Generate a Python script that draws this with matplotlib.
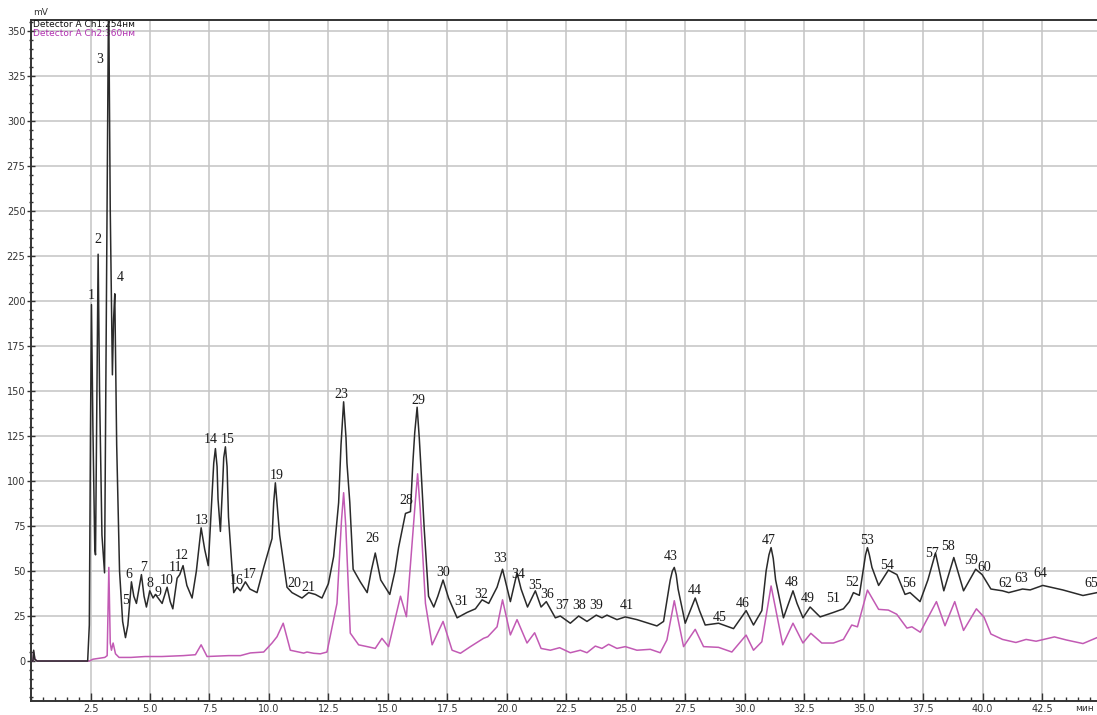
#!/usr/bin/env python3
"""
Script to redraw a two-channel HPLC chromatogram (254 nm and 360 nm).
"""

import matplotlib.pyplot as plt
from matplotlib.ticker import MultipleLocator

# Channel 1 (254 nm) trace: time in min, signal in mV
ch1_time = [
    0.0, 0.08, 0.11, 0.16, 0.25, 2.38, 2.45, 2.50, 2.54, 2.60, 2.68, 2.71, 2.75,
    2.82, 2.88, 2.98, 3.09, 3.17, 3.26, 3.33, 3.42, 3.47, 3.52, 3.60, 3.72, 3.85,
    3.97, 4.07, 4.12, 4.22, 4.32, 4.43, 4.64, 4.75, 4.85, 4.99, 5.13, 5.23, 5.51,
    5.72, 5.85, 5.96, 6.14, 6.25, 6.39, 6.55, 6.77, 6.95, 7.15, 7.30, 7.45, 7.60,
    7.68, 7.75, 7.82, 7.86, 7.96, 8.06, 8.10, 8.17, 8.24, 8.30, 8.52, 8.66, 8.80,
    9.01, 9.20, 9.50, 9.78, 10.13, 10.20, 10.27, 10.35, 10.45, 10.76, 10.97,
    11.39, 11.67, 11.95, 12.23, 12.50, 12.72, 12.93, 13.03, 13.14, 13.24, 13.28,
    13.40, 13.54, 13.84, 14.13, 14.30, 14.47, 14.70, 15.08, 15.30, 15.45, 15.74,
    15.95, 16.05, 16.13, 16.23, 16.32, 16.38, 16.53, 16.71, 16.93, 17.10, 17.32,
    17.55, 17.91, 18.33, 18.68, 18.96, 19.24, 19.59, 19.82, 20.15, 20.43, 20.60,
    20.87, 21.20, 21.44, 21.66, 22.04, 22.25, 22.67, 23.02, 23.37, 23.76, 24.00,
    24.21, 24.63, 24.98, 25.47, 26.31, 26.59, 26.87, 26.96, 27.04, 27.12, 27.20,
    27.50, 27.92, 28.10, 28.34, 28.90, 29.53, 29.85, 30.06, 30.37, 30.72, 30.90,
    31.02, 31.11, 31.20, 31.30, 31.63, 32.03, 32.20, 32.45, 32.75, 33.17, 33.73,
    34.15, 34.40, 34.57, 34.82, 35.08, 35.16, 35.24, 35.35, 35.63, 36.04, 36.40,
    36.74, 36.95, 37.37, 37.70, 38.02, 38.37, 38.79, 39.20, 39.71, 39.98, 40.35,
    40.84, 41.10, 41.68, 42.00, 42.53, 43.37, 44.22, 44.81,
]
ch1_mv = [
    0, 0, 6, 1, 0, 0, 20, 130, 198, 130, 62, 59, 120,
    226, 150, 70, 49, 200, 375, 250, 159, 190, 204, 120, 50, 22,
    13, 20, 28, 44, 36, 32, 48, 36, 30, 39, 35, 37, 32,
    41, 33, 29, 46, 48, 53, 42, 35, 50, 74, 62, 53, 90,
    110, 118, 108, 90, 72, 100, 113, 119, 108, 80, 38, 41, 39,
    44, 40, 38, 52, 68, 88, 99, 86, 70, 41, 38,
    35, 38, 37, 35, 43, 58, 88, 120, 144, 124, 110,
    88, 51, 44, 38, 50, 60, 45, 37, 50, 63, 82,
    83, 110, 127, 141, 124, 110, 73, 36, 30, 36, 45,
    35, 24, 27, 29, 34, 32, 41, 51, 33, 49, 40,
    30, 39, 30, 33, 24, 25, 21, 25, 22, 25.5, 24,
    25.5, 23, 24.5, 23, 19.5, 22, 45, 50, 52, 48, 40,
    21, 35, 28, 20, 21, 18, 24, 28, 20, 28, 50,
    59, 63, 57, 45, 24, 39, 32, 24, 30, 24.5, 27,
    29, 33, 38, 36.5, 59, 63, 59, 52, 42, 50.5, 48,
    37, 38, 33, 45, 60, 39, 57.5, 39, 51, 48, 40,
    39, 38, 40, 39.5, 42, 39.5, 36.4, 38,
]

# Channel 2 (360 nm) trace
ch2_time = [
    0.0, 0.08, 0.11, 0.16, 0.25, 2.45, 2.60, 3.10, 3.20, 3.27, 3.33, 3.38, 3.45,
    3.55, 3.70, 4.20, 4.80, 5.50, 6.40, 6.91, 7.15, 7.40, 8.30, 8.80, 9.22, 9.78,
    10.13, 10.34, 10.60, 10.90, 11.46, 11.60, 11.88, 12.16, 12.44, 12.86, 13.05,
    13.14, 13.23, 13.42, 13.77, 14.13, 14.47, 14.75, 15.03, 15.53, 15.78, 16.15,
    16.25, 16.36, 16.58, 16.86, 17.32, 17.70, 18.05, 18.47, 19.02, 19.20, 19.59,
    19.82, 20.15, 20.43, 20.85, 21.17, 21.44, 21.83, 22.22, 22.67, 23.09, 23.37,
    23.72, 24.00, 24.28, 24.63, 24.98, 25.47, 26.03, 26.45, 26.73, 27.04, 27.43,
    27.92, 28.27, 28.90, 29.46, 30.06, 30.37, 30.72, 31.11, 31.60, 32.03, 32.45,
    32.78, 33.24, 33.73, 34.15, 34.50, 34.74, 35.16, 35.63, 36.04, 36.39, 36.82,
    37.03, 37.38, 38.06, 38.42, 38.83, 39.20, 39.74, 40.06, 40.35, 40.84, 41.40,
    41.83, 42.25, 43.02, 43.52, 44.22, 44.81,
]
ch2_mv = [
    0, 0, 5, 1, 0, 0, 1, 2, 3, 52, 10, 6, 10,
    4, 2, 2, 2.5, 2.5, 3, 3.5, 9, 2.5, 3, 3, 4.5, 5,
    10, 13.5, 21, 6, 4.4, 5, 4.3, 4, 5, 32, 78,
    93.5, 75, 15.5, 9, 8, 7, 12.6, 8, 36, 24.6, 88,
    104, 84, 32, 9, 22, 6, 4.3, 8, 12.6, 13.5, 19,
    34, 14.5, 23, 10, 15.7, 7, 6, 7.4, 4.6, 6, 4.6,
    8.3, 7, 9.3, 7, 8, 6, 6.5, 4.6, 11.7, 33.5, 8,
    17.6, 8, 7.6, 5, 14.4, 6, 10.7, 41.7, 9, 21, 10,
    15.4, 10, 10, 12, 20, 19, 39.4, 28.7, 28.3, 26, 18.3,
    19, 16, 33, 19.6, 33, 17, 29, 24.4, 15, 12, 10.3,
    12, 11, 13.4, 11.7, 9.7, 13,
]

# Peak numbers and where their labels sit (time, mV)
peak_labels = [
    "1", "2", "3", "4", "5", "6", "7", "8", "9", "10", "11", "12", "13", "14",
    "15", "16", "17", "19", "20", "21", "23", "26", "28", "29", "30", "31", "32",
    "33", "34", "35", "36", "37", "38", "39", "41", "43", "44", "45", "46", "47",
    "48", "49", "51", "52", "53", "54", "56", "57", "58", "59", "60", "62", "63",
    "64", "65",
]
label_time = [
    2.54, 2.80, 2.88, 3.76, 3.97, 4.10, 4.73, 4.98, 5.32, 5.69, 6.07, 6.32, 7.16,
    7.54, 8.26, 8.63, 9.18, 10.31, 11.07, 11.66, 13.05, 14.35, 15.78, 16.28,
    17.33, 18.09, 18.93, 19.73, 20.48, 21.20, 21.70, 22.33, 23.05, 23.76, 25.06,
    26.87, 27.92, 28.93, 29.90, 30.99, 31.99, 32.67, 33.72, 34.52, 35.15, 36.00,
    36.91, 37.88, 38.55, 39.52, 40.07, 40.94, 41.61, 42.41, 44.55,
]
label_mv = [
    202.8, 233.9, 333.9, 213.3, 33.9, 48.3, 52.2, 42.8, 38.3, 45.0, 52.2, 58.9,
    77.8, 122.8, 122.8, 45.0, 48.3, 102.8, 43.3, 41.1, 148.3, 67.8, 89.4, 145.0,
    49.4, 32.8, 37.2, 56.7, 48.3, 42.2, 37.2, 31.1, 30.6, 31.1, 30.6, 58.3,
    39.4, 24.4, 32.2, 67.2, 43.9, 35.0, 35.0, 43.9, 67.2, 52.8, 42.8, 60.0,
    63.9, 56.1, 52.2, 43.3, 46.1, 48.9, 43.3,
]

x_ticks = [2.5, 5.0, 7.5, 10.0, 12.5, 15.0, 17.5, 20.0, 22.5, 25.0, 27.5, 30.0,
           32.5, 35.0, 37.5, 40.0, 42.5]
y_ticks = [0, 25, 50, 75, 100, 125, 150, 175, 200, 225, 250, 275, 300, 325, 350]

CH1_COLOR = "#2a2a2a"
CH2_COLOR = "#c25ab4"


def main():
    fig = plt.figure(figsize=(10.97, 7.15), dpi=100)
    ax = fig.add_axes([0.0283, 0.0196, 0.9717, 0.9524])

    ax.plot(ch2_time, ch2_mv, color=CH2_COLOR, lw=1.1, zorder=3)
    ax.plot(ch1_time, ch1_mv, color=CH1_COLOR, lw=1.1, zorder=4)

    for lab, t, v in zip(peak_labels, label_time, label_mv):
        ax.text(t, v, lab, ha="center", va="center", fontsize=10,
                family="Liberation Serif", color="#1a1a1a", zorder=5)

    ax.set_xlim(0, 44.81)
    ax.set_ylim(-22.2, 356.1)

    # grid and ticks
    ax.set_xticks(x_ticks)
    ax.set_xticklabels([f"{t:.1f}" for t in x_ticks])
    ax.set_yticks(y_ticks)
    ax.xaxis.set_minor_locator(MultipleLocator(0.5))
    ax.yaxis.set_minor_locator(MultipleLocator(5))
    ax.grid(True, which="major", color="#c4c4c4", lw=1.1)
    ax.set_axisbelow(True)
    ax.tick_params(axis="x", which="major", direction="in", length=6, width=1,
                   labelsize=7, pad=2, colors="#333333")
    ax.tick_params(axis="x", which="minor", direction="in", length=3, width=1,
                   colors="#333333")
    ax.tick_params(axis="y", which="major", direction="inout", length=6, width=1,
                   labelsize=7, pad=1, colors="#333333")
    ax.tick_params(axis="y", which="minor", direction="inout", length=3, width=1,
                   colors="#333333")

    for side in ["left", "bottom", "top"]:
        ax.spines[side].set_linewidth(1.4)
        ax.spines[side].set_color("#333333")
    ax.spines["right"].set_visible(False)

    # channel captions and units
    ax.text(0.1, 353.5, "Detector A Ch1:254нм", fontsize=6.5, color="#111111",
            va="center", ha="left")
    ax.text(0.1, 348.5, "Detector A Ch2:360нм", fontsize=6.5, color="#b030b0",
            va="center", ha="left")
    fig.text(0.030, 0.982, "mV", fontsize=6.5, color="#333333", ha="left",
             va="center")
    fig.text(0.997, 0.003, "мин", fontsize=6.5, color="#333333", ha="right",
             va="bottom")

    fig.savefig("out.png", dpi=100)
    plt.close(fig)


if __name__ == "__main__":
    main()
